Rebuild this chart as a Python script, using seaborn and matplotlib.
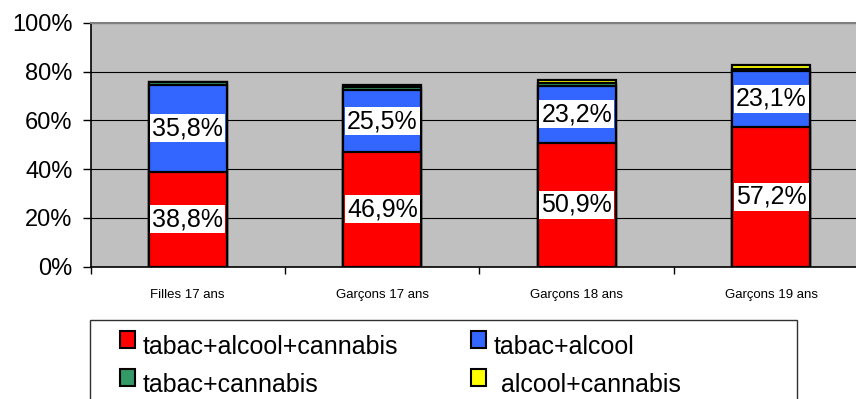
import matplotlib
matplotlib.use("Agg")
import matplotlib.pyplot as plt
from matplotlib.patches import Rectangle
import numpy as np
import pandas as pd
import seaborn as sns

# ---- data ----
categories = ["Filles 17 ans", "Garçons 17 ans", "Garçons 18 ans", "Garçons 19 ans"]
tabac_alcool_cannabis = [38.8, 46.9, 50.9, 57.2]
tabac_alcool = [35.8, 25.5, 23.2, 23.1]
tabac_cannabis = [1.0, 1.2, 1.3, 0.6]
alcool_cannabis = [0.3, 1.0, 1.3, 1.6]
series_names = ["tabac+alcool+cannabis", "tabac+alcool", "tabac+cannabis", " alcool+cannabis"]
yticks = [0, 20, 40, 60, 80, 100]

colors = ["#FF0000", "#3366FF", "#339966", "#FFFF00"]
series = [tabac_alcool_cannabis, tabac_alcool, tabac_cannabis, alcool_cannabis]

sns.set_style("white")
plt.rcParams["font.family"] = ["Liberation Sans", "DejaVu Sans"]
plt.rcParams["text.color"] = "black"
plt.rcParams["xtick.color"] = "black"
plt.rcParams["ytick.color"] = "black"

W, H = 856, 399
fig = plt.figure(figsize=(W / 100, H / 100), dpi=100)
fx = lambda px: px / W
fy = lambda py: 1 - py / H

ax_left, ax_right, ax_top, ax_bottom = 90.5, 90.5 + 778, 22.7, 266.7
ax = fig.add_axes([fx(ax_left), fy(ax_bottom), (ax_right - ax_left) / W, (ax_bottom - ax_top) / H])
ax.set_facecolor("#C0C0C0")

cum = np.cumsum(np.array(series), axis=0)
df = pd.DataFrame({"cat": categories})
for i in range(len(series)):
    df[f"cum{i}"] = cum[i]

# draw from the top layer down so lower segments cover upper totals
for i in reversed(range(len(series))):
    sns.barplot(data=df, x="cat", y=f"cum{i}", color=colors[i], saturation=1,
                width=0.4, edgecolor="black", linewidth=1.6, ax=ax, zorder=3)

ax.set_xlim(-0.5, 3.5)
ax.set_ylim(0, 100)
ax.set_xlabel("")
ax.set_ylabel("")

# y axis
ax.set_yticks(yticks)
ax.set_yticklabels([f"{v}%" for v in yticks], fontsize=17, color="black")
ax.tick_params(axis="y", length=6, width=1, pad=7, color="black", left=True)
ax.yaxis.grid(True, color="black", linewidth=0.8)
ax.set_axisbelow(True)

# x axis: labels at centers, ticks at boundaries
ax.set_xticks(range(len(categories)))
ax.set_xticklabels(categories, fontsize=9.5, color="black")
ax.tick_params(axis="x", which="major", length=0, pad=16)
ax.set_xticks(np.arange(-0.5, len(categories), 1.0), minor=True)
ax.tick_params(axis="x", which="minor", length=5, width=1, color="black", bottom=True)

for s in ["left", "bottom"]:
    ax.spines[s].set_color("black")
    ax.spines[s].set_linewidth(1.2)
ax.spines["top"].set_color("#808080")
ax.spines["top"].set_linewidth(1.5)
ax.spines["right"].set_visible(False)

# data labels
for i in range(2):
    for j, v in enumerate(series[i]):
        base = cum[i][j] - v
        ax.text(j, base + v / 2, f"{v:.1f}%".replace(".", ","), ha="center", va="center",
                fontsize=18, color="black", zorder=5,
                bbox=dict(boxstyle="square,pad=0.08", facecolor="white", edgecolor="none"))

# legend (drawn in figure pixels)
fig.add_artist(Rectangle((fx(90), fy(420)), (797 - 90) / W, (420 - 320) / H,
                         transform=fig.transFigure, facecolor="white",
                         edgecolor="#303030", linewidth=1))
pos = [(120, 331, 143), (471, 331, 494), (120, 369, 143), (471, 369, 494)]
for (px, py, tx), name, c in zip(pos, series_names, colors):
    fig.add_artist(Rectangle((fx(px), fy(py + 17)), 15 / W, 17 / H, transform=fig.transFigure,
                             facecolor=c, edgecolor="black", linewidth=1.5))
    fig.text(fx(tx), fy(py + 23), name, fontsize=18, ha="left", va="baseline", color="black")

fig.savefig("out.png", dpi=100)
